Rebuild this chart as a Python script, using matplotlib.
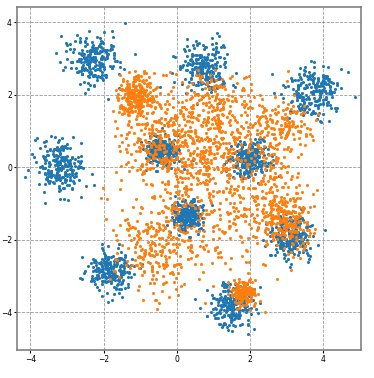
import numpy as np
import matplotlib
matplotlib.use('Agg')
import matplotlib.pyplot as plt

# blue clusters: centre x, centre y, spread, count
blue_cx = [-2.3, 0.7, 3.7, -3.2, -0.4, 2.0, 0.3, 3.1, -1.8, 1.5]
blue_cy = [2.95, 2.8, 2.05, 0.0, 0.45, 0.25, -1.35, -1.9, -2.85, -3.8]
blue_sd = [0.35, 0.35, 0.37, 0.36, 0.22, 0.25, 0.2, 0.3, 0.3, 0.3]
blue_n = [220, 220, 220, 220, 220, 220, 220, 220, 220, 220]

# orange components: dense blobs plus a wide diffuse cloud
orange_cx = [-1.1, 1.8, 3.0, 1.0, 0.8, -0.6, 2.9, -0.5, 2.6]
orange_cy = [1.95, -3.45, -1.6, 1.3, -0.4, -2.4, 1.2, 0.7, -0.8]
orange_sd = [0.28, 0.18, 0.38, 0.7, 1.2, 0.6, 0.4, 0.5, 0.5]
orange_n = [240, 170, 180, 350, 550, 200, 120, 150, 120]

rng = np.random.default_rng(3)

def make_cloud(cx, cy, sd, n):
    xs, ys = [], []
    for i in range(len(cx)):
        xs.append(rng.normal(cx[i], sd[i], n[i]))
        ys.append(rng.normal(cy[i], sd[i], n[i]))
    return np.concatenate(xs), np.concatenate(ys)

bx, by = make_cloud(blue_cx, blue_cy, blue_sd, blue_n)
ox, oy = make_cloud(orange_cx, orange_cy, orange_sd, orange_n)
# keep the diffuse cloud within the region seen in the picture
keep = (ox > -2.1) & (ox < 4.0) & (oy > -4.0) & (oy < 2.7)
ox, oy = ox[keep], oy[keep]

fig = plt.figure(figsize=(3.74, 3.78), dpi=100)
ax = fig.add_axes([0.045, 0.074, 0.92, 0.907])
ax.scatter(bx, by, s=5, c='tab:blue', linewidths=0)
ax.scatter(ox, oy, s=5, c='tab:orange', linewidths=0)
ax.set_xlim(-4.37, 5.03)
ax.set_ylim(-5.04, 4.42)
ax.set_xticks([-4, -2, 0, 2, 4])
ax.set_yticks([-4, -2, 0, 2, 4])
ax.grid(True, linestyle='--', color='gray', linewidth=0.6, alpha=0.8)
ax.set_axisbelow(True)
ax.tick_params(labelsize=5.5, length=2, pad=1.5)
for sp in ax.spines.values():
    sp.set_color('gray')
    sp.set_linewidth(1.2)

fig.savefig('out.png', dpi=100)
